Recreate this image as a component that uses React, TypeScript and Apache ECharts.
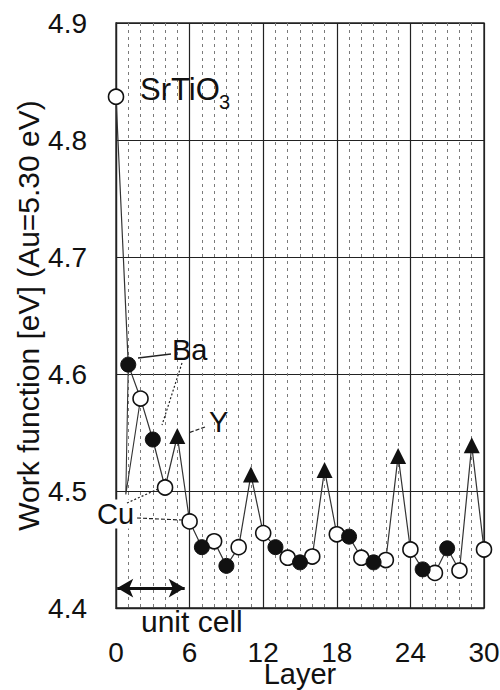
import React, { useEffect, useRef } from "react";
import * as echarts from "echarts";

const layers = [0, 1, 2, 3, 4, 5, 6, 7, 8, 9, 10, 11, 12, 13, 14, 15, 16, 17, 18, 19, 20, 21, 22, 23, 24, 25, 26, 27, 28, 29, 30];
const workFunction = [
  4.837, 4.608, 4.579, 4.544, 4.503, 4.547, 4.474, 4.452, 4.457, 4.436, 4.452,
  4.514, 4.464, 4.452, 4.443, 4.439, 4.444, 4.518, 4.463, 4.461, 4.443, 4.439,
  4.441, 4.53, 4.45, 4.433, 4.43, 4.451, 4.432, 4.539, 4.45,
];
// O = open circle, F = filled circle, T = triangle
const siteType = [
  "O", "F", "O", "F", "O", "T", "O", "F", "O", "F", "O", "T", "O", "F", "O", "F",
  "O", "T", "O", "F", "O", "F", "O", "T", "O", "F", "O", "F", "O", "T", "O",
];
const extraPathX = [1, 0.8, 2];
const extraPathY = [4.608, 4.497, 4.579];
const xTicks = { min: 0, max: 30, interval: 6 };
const yTicks = { min: 4.4, max: 4.9, interval: 0.1 };
const unitCellSpan = [0.1, 5.6];
const unitCellY = 4.417;

const FONT = "'Liberation Sans', Arial, sans-serif";

export default function App() {
  const ref = useRef<HTMLDivElement>(null);
  useEffect(() => {
    if (!ref.current) return;
    const chart = echarts.init(ref.current, undefined, { renderer: "svg" });
    const pts = layers.map((l, i) => [l, workFunction[i]]);
    const pick = (t: string) => pts.filter((_, i) => siteType[i] === t);
    const txt = (text: string, x: number, y: number, size = 28, extra: any = {}) => ({
      type: "text",
      x,
      y,
      z: 50,
      style: {
        text,
        font: `${size}px ${FONT}`,
        fill: "#111",
        align: "left",
        verticalAlign: "middle",
        textAlign: "left",
        textVerticalAlign: "middle",
        ...extra,
      },
    });
    const ln = (x1: number, y1: number, x2: number, y2: number, dash: any = null, w = 1.3) => ({
      type: "line",
      z: 50,
      shape: { x1, y1, x2, y2 },
      style: { stroke: "#222", lineWidth: w, lineDash: dash },
    });
    chart.setOption({
      animation: false,
      backgroundColor: "#fff",
      grid: {
        left: 116,
        right: 16,
        top: 23,
        bottom: 82,
        containLabel: false,
        outerBoundsMode: "none",
        show: true,
        borderColor: "#222",
        borderWidth: 1.3,
      },
      xAxis: {
        type: "value",
        min: xTicks.min,
        max: xTicks.max,
        interval: xTicks.interval,
        name: "Layer",
        nameLocation: "middle",
        nameGap: 56,
        nameMoveOverlap: false,
        nameTextStyle: { fontSize: 29, fontFamily: FONT, color: "#111", lineHeight: 20 },
        axisLine: { show: true, lineStyle: { color: "#222", width: 1.3 } },
        axisTick: { show: false },
        axisLabel: { fontSize: 28, fontFamily: FONT, color: "#111", margin: 34, lineHeight: 20 },
        splitLine: { show: true, lineStyle: { color: "#222", width: 1.2 } },
        minorTick: { show: false, splitNumber: 6 },
        minorSplitLine: {
          show: true,
          lineStyle: { color: "#7a7a7a", width: 1, type: [3, 4] },
        },
      },
      yAxis: {
        type: "value",
        min: yTicks.min,
        max: yTicks.max,
        interval: yTicks.interval,
        name: "Work function [eV] (Au=5.30 eV)",
        nameLocation: "middle",
        nameGap: 73,
        nameMoveOverlap: false,
        nameTextStyle: { fontSize: 30, fontFamily: FONT, color: "#111" },
        axisLine: { show: true, lineStyle: { color: "#222", width: 1.3 } },
        axisTick: { show: false },
        axisLabel: {
          fontSize: 28,
          fontFamily: FONT,
          color: "#111",
          margin: 29,
          formatter: (v: number) => v.toFixed(1),
        },
        splitLine: { show: true, lineStyle: { color: "#222", width: 1.2 } },
      },
      series: [
        {
          type: "line",
          data: pts,
          symbol: "none",
          lineStyle: { color: "#333", width: 1.2 },
          z: 3,
          markLine: {
            silent: true,
            symbol: ["arrow", "arrow"],
            symbolSize: [14, 16],
            label: { show: false },
            lineStyle: { color: "#111", width: 3, type: "solid" },
            data: [
              [
                { coord: [unitCellSpan[0], unitCellY] },
                { coord: [unitCellSpan[1], unitCellY] },
              ],
            ],
          },
        },
        {
          type: "line",
          data: extraPathX.map((x, i) => [x, extraPathY[i]]),
          symbol: "none",
          lineStyle: { color: "#333", width: 1.1 },
          z: 3,
        },
        {
          type: "scatter",
          data: pick("O"),
          symbol: "circle",
          symbolSize: 15,
          itemStyle: { color: "#fff", borderColor: "#111", borderWidth: 1.6, opacity: 1 },
          z: 5,
        },
        {
          type: "scatter",
          data: pick("F"),
          symbol: "circle",
          symbolSize: 15,
          itemStyle: { color: "#111", borderColor: "#111", borderWidth: 1, opacity: 1 },
          z: 5,
        },
        {
          type: "scatter",
          data: pick("T"),
          symbol: "triangle",
          symbolSize: 16,
          itemStyle: { color: "#111", opacity: 1 },
          z: 5,
        },
      ],
      graphic: [
        txt("SrTiO", 140, 89, 31),
        txt("3", 219, 102, 20),
        txt("Ba", 172, 350, 29),
        txt("Y", 209, 422, 29),
        txt("Cu", 97, 514, 29, { backgroundColor: "#fff" }),
        txt("unit cell", 141, 621, 30),
        ln(138, 358, 171, 354),
        ln(182, 363, 162, 425, [2, 2], 1.2),
        ln(205, 427, 188, 433, [4, 2], 1.2),
        ln(127, 503, 158, 489, [2, 2], 1.2),
        ln(137, 518, 182, 520, [4, 2], 1.2),
      ],
    });
    return () => chart.dispose();
  }, []);
  return (
    <div
      ref={ref}
      style={{ position: "absolute", left: 0, top: 0, width: 500, height: 690 }}
    />
  );
}
